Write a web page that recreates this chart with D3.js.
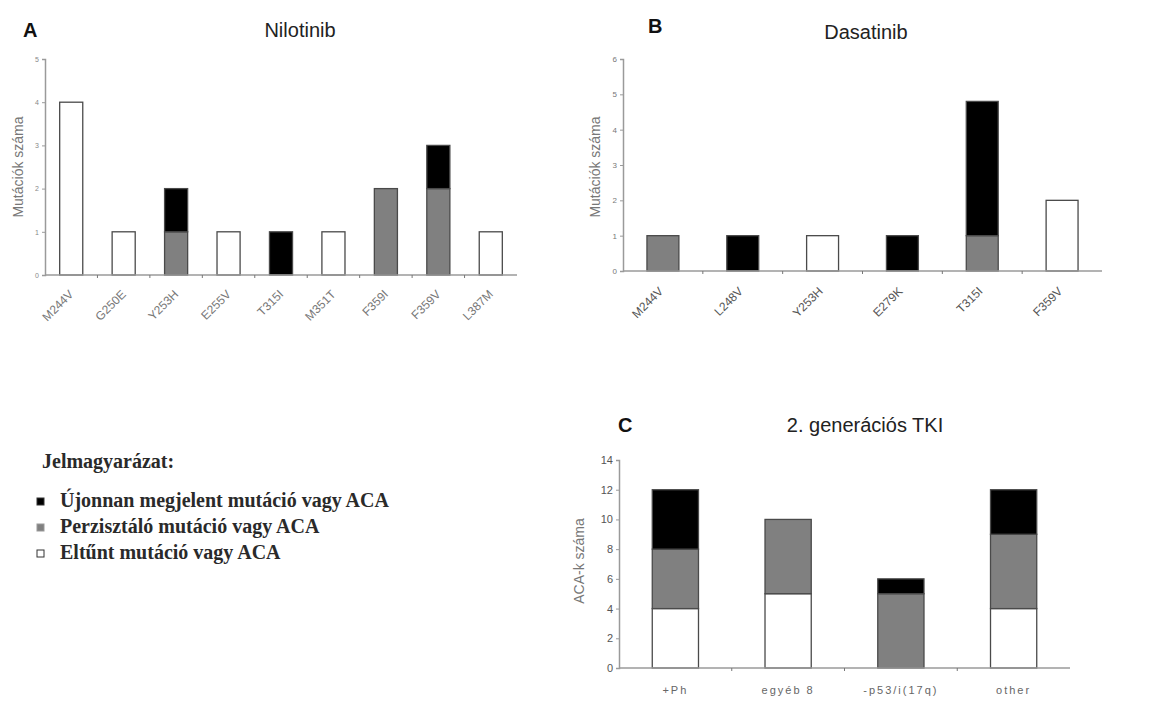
<!DOCTYPE html>
<html>
<head>
<meta charset="utf-8">
<script src="https://cdn.jsdelivr.net/npm/d3@7"></script>
<style>
  body { margin: 0; background: #fff; }
  svg { display: block; }
</style>
</head>
<body>
<div id="chart"></div>
<script>
// data
const nilCats = ["M244V", "G250E", "Y253H", "E255V", "T315I", "M351T", "F359I", "F359V", "L387M"];
const nilGone = [4, 1, 0, 1, 0, 1, 0, 0, 1];
const nilPersist = [0, 0, 1, 0, 0, 0, 2, 2, 0];
const nilNew = [0, 0, 1, 0, 1, 0, 0, 1, 0];
const nilTicks = [0, 1, 2, 3, 4, 5];

const dasCats = ["M244V", "L248V", "Y253H", "E279K", "T315I", "F359V"];
const dasGone = [0, 0, 1, 0, 0, 2];
const dasPersist = [1, 0, 0, 0, 1, 0];
const dasNew = [0, 1, 0, 1, 3.8, 0];
const dasTicks = [0, 1, 2, 3, 4, 5, 6];

const tkiCats = ["+Ph", "egyéb  8", "-p53/i(17q)", "other"];
const tkiGone = [4, 5, 0, 4];
const tkiPersist = [4, 5, 5, 5];
const tkiNew = [4, 0, 1, 3];
const tkiTicks = [0, 2, 4, 6, 8, 10, 12, 14];

const legendLabels = ["Újonnan megjelent mutáció vagy ACA", "Perzisztáló mutáció vagy ACA", "Eltűnt mutáció vagy ACA"];

const colors = { gone: "#ffffff", persist: "#808080", "new": "#000000" };

const svg = d3.select("#chart").append("svg")
    .attr("width", 1151)
    .attr("height", 702);

function panel(opt) {
    const g = svg.append("g");
    const x = d3.scaleBand().domain(opt.cats).range([opt.x0, opt.x1]).paddingInner(opt.pad).paddingOuter(opt.pad / 2);
    const y = d3.scaleLinear().domain([0, opt.max]).range([opt.y0, opt.y1]);

    const rows = opt.cats.map((c, i) => ({ cat: c, gone: opt.gone[i], persist: opt.persist[i], "new": opt.nw[i] }));
    const stack = d3.stack().keys(["gone", "persist", "new"])(rows);

    stack.forEach(layer => {
        g.selectAll(null)
            .data(layer.filter(d => d[1] > d[0]))
            .enter()
            .append("rect")
            .attr("x", d => x(d.data.cat))
            .attr("width", x.bandwidth())
            .attr("y", d => y(d[1]))
            .attr("height", d => y(d[0]) - y(d[1]))
            .attr("fill", colors[layer.key])
            .attr("stroke", "#4a4a4a")
            .attr("stroke-width", 1.3);
    });

    // y axis
    const yAxis = g.append("g")
        .attr("transform", `translate(${opt.x0},0)`)
        .call(d3.axisLeft(y).tickValues(opt.ticks).tickSize(3).tickFormat(d3.format("d")));
    yAxis.select(".domain").attr("stroke", "#9a9a9a").attr("stroke-width", 1.5);
    yAxis.selectAll(".tick line").attr("stroke", "#9a9a9a");
    yAxis.selectAll("text").attr("fill", opt.tickColor).style("font-size", opt.tickFont + "px")
        .style("font-family", "Liberation Sans, Arial, sans-serif").attr("x", -6);

    // x axis line + ticks between categories
    g.append("line")
        .attr("x1", opt.x0).attr("x2", opt.x1)
        .attr("y1", opt.y0).attr("y2", opt.y0)
        .attr("stroke", "#9a9a9a").attr("stroke-width", 1.5);
    const step = x.step();
    g.selectAll(null)
        .data(opt.cats.slice(1))
        .enter()
        .append("line")
        .attr("x1", d => x(d) - step * opt.pad / 2)
        .attr("x2", d => x(d) - step * opt.pad / 2)
        .attr("y1", opt.y0).attr("y2", opt.y0 + 3)
        .attr("stroke", "#777");

    // category labels
    const lab = g.selectAll(null)
        .data(opt.cats)
        .enter()
        .append("text")
        .text(d => d)
        .attr("fill", opt.labColor)
        .style("font-family", "Liberation Sans, Arial, sans-serif")
        .style("font-size", opt.labFont + "px");
    if (opt.rotate) {
        lab.attr("text-anchor", "end")
            .attr("transform", d => `translate(${x(d) + x.bandwidth() / 2 + opt.labDx},${opt.y0 + opt.labDy}) rotate(-45)`);
    } else {
        lab.attr("text-anchor", "middle")
            .attr("x", d => x(d) + x.bandwidth() / 2)
            .attr("y", opt.y0 + opt.labDy)
            .style("letter-spacing", "2px");
    }

    // y title
    g.append("text")
        .text(opt.yTitle)
        .attr("transform", `translate(${opt.yTitleX},${opt.yTitleY}) rotate(-90)`)
        .attr("text-anchor", "middle")
        .attr("fill", "#777")
        .style("font-family", "Liberation Sans, Arial, sans-serif")
        .style("font-size", opt.yFont + "px");

    // panel letter + title
    svg.append("text").text(opt.letter)
        .attr("x", opt.letterX).attr("y", opt.letterY)
        .attr("fill", "#111")
        .style("font-family", "Liberation Sans, Arial, sans-serif")
        .style("font-weight", "bold").style("font-size", "20px");
    svg.append("text").text(opt.title)
        .attr("x", opt.titleX).attr("y", opt.titleY)
        .attr("text-anchor", "middle")
        .attr("fill", "#222")
        .style("font-family", "Liberation Sans, Arial, sans-serif")
        .style("font-size", "20px");
}

panel({
    cats: nilCats, gone: nilGone, persist: nilPersist, nw: nilNew, ticks: nilTicks, max: 5,
    x0: 45, x1: 517, y0: 275, y1: 59, pad: 0.56,
    tickFont: 7, tickColor: "#888", labFont: 12, labColor: "#777", rotate: true, labDx: 3, labDy: 20,
    yTitle: "Mutációk száma", yTitleX: 23, yTitleY: 167, yFont: 14,
    letter: "A", letterX: 23, letterY: 37, title: "Nilotinib", titleX: 300, titleY: 37
});

panel({
    cats: dasCats, gone: dasGone, persist: dasPersist, nw: dasNew, ticks: dasTicks, max: 6,
    x0: 623, x1: 1102, y0: 271, y1: 59, pad: 0.6,
    tickFont: 8, tickColor: "#777", labFont: 12, labColor: "#555", rotate: true, labDx: 1, labDy: 21,
    yTitle: "Mutációk száma", yTitleX: 600, yTitleY: 167, yFont: 14,
    letter: "B", letterX: 648, letterY: 33, title: "Dasatinib", titleX: 866, titleY: 39
});

panel({
    cats: tkiCats, gone: tkiGone, persist: tkiPersist, nw: tkiNew, ticks: tkiTicks, max: 14,
    x0: 619, x1: 1070, y0: 668, y1: 460, pad: 0.59,
    tickFont: 11, tickColor: "#555", labFont: 11, labColor: "#666", rotate: false, labDx: 0, labDy: 26,
    yTitle: "ACA-k száma", yTitleX: 584, yTitleY: 561, yFont: 14,
    letter: "C", letterX: 618, letterY: 432, title: "2. generációs TKI", titleX: 865, titleY: 432
});

// legend
const legend = svg.append("g").style("font-family", "Liberation Serif, Times New Roman, serif");
legend.append("text").text("Jelmagyarázat:")
    .attr("x", 42).attr("y", 468)
    .attr("fill", "#2a2a2a").style("font-size", "20px").style("font-weight", "bold");
const legColors = [colors["new"], colors.persist, colors.gone];
legend.selectAll(null)
    .data(legendLabels)
    .enter()
    .append("rect")
    .attr("x", 37).attr("y", (d, i) => 498 + i * 26)
    .attr("width", 7).attr("height", 7)
    .attr("fill", (d, i) => legColors[i])
    .attr("stroke", (d, i) => i === 1 ? "#999" : "#333");
legend.selectAll(null)
    .data(legendLabels)
    .enter()
    .append("text")
    .text(d => d)
    .attr("x", 60).attr("y", (d, i) => 507 + i * 26)
    .attr("fill", "#2a2a2a")
    .style("font-size", "20px").style("font-weight", "bold");
</script>
</body>
</html>
